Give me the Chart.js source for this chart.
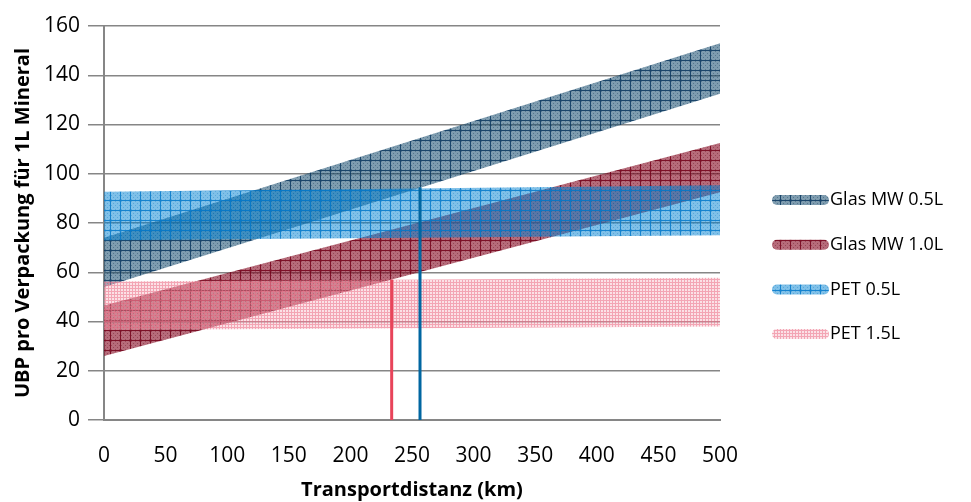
<!DOCTYPE html>
<html>
<head>
<meta charset="utf-8">
<script src="https://cdn.jsdelivr.net/npm/chart.js@4"></script>
<style>
  body { margin: 0; background: #fff; }
  #wrap { width: 971px; height: 502px; }
</style>
</head>
<body>
<div id="wrap"><canvas id="myChart" width="971" height="502"></canvas></div>
<script>
// Transportdistanz in km (Start und Ende der Bänder)
const distanz = [0, 500]

// Bänder: untere und obere Grenze in UBP
const glas05Unten = [54, 132.5]
const glas05Oben  = [74, 153]
const glas10Unten = [26, 92.5]
const glas10Oben  = [46.5, 112.5]
const pet05Unten  = [73, 75]
const pet05Oben   = [92.7, 95.3]
const pet15Unten  = [36.5, 38]
const pet15Oben   = [56.2, 57.8]

// Schnittpunkte (senkrechte Linien)
const schnittX = [233.5, 256.5]
const schnittY = [57, 94.5]

const labels = ["Glas MW 0.5L", "Glas MW 1.0L", "PET 0.5L", "PET 1.5L"]

function muster(grund, punkt, linie, groesse) {
    const c = document.createElement('canvas')
    c.width = groesse
    c.height = groesse
    const g = c.getContext('2d')
    g.fillStyle = grund
    g.fillRect(0, 0, groesse, groesse)
    if (punkt) {
        g.fillStyle = punkt
        for (let i = 1; i < groesse; i += 2) {
            for (let j = 1; j < groesse; j += 2) {
                if (((i + j) / 2) % 2 === 1) g.fillRect(i, j, 1, 1)
            }
        }
    }
    g.fillStyle = linie
    g.fillRect(0, 0, groesse, 1)
    g.fillRect(0, 1, 1, groesse - 1)
    return g.createPattern(c, 'repeat')
}

const fuellungen = [
    muster('rgba(20,75,110,0.55)', 'rgba(10,50,80,0.35)', 'rgba(10,55,95,0.85)', 10),
    muster('rgba(130,0,25,0.58)', 'rgba(90,0,20,0.35)', 'rgba(115,0,25,0.85)', 10),
    muster('rgba(0,130,210,0.5)', 'rgba(0,110,190,0.3)', 'rgba(10,125,205,0.9)', 10),
    muster('rgba(245,175,188,0.38)', null, 'rgba(235,105,130,0.5)', 3),
]

function punkte(werte) {
    return distanz.map((x, i) => ({ x: x, y: werte[i] }))
}

// order: spätere Serie liegt oben (wie in Excel)
function band(label, oben, unten, fuellung, ordnung) {
    return [
        { label: label, data: punkte(oben), fill: '+1', backgroundColor: fuellung,
          borderWidth: 0, pointRadius: 0, order: ordnung },
        { label: '', data: punkte(unten), fill: false, backgroundColor: fuellung,
          borderWidth: 0, pointRadius: 0, order: ordnung }
    ]
}

function senkrecht(i, farbe) {
    return { label: '', data: [{ x: schnittX[i], y: 0 }, { x: schnittX[i], y: schnittY[i] }],
        fill: false, borderColor: farbe, borderWidth: 3, pointRadius: 0, order: 0 }
}

const datasets = [
    ...band(labels[0], glas05Oben, glas05Unten, fuellungen[0], 4),
    ...band(labels[1], glas10Oben, glas10Unten, fuellungen[1], 3),
    ...band(labels[2], pet05Oben, pet05Unten, fuellungen[2], 2),
    ...band(labels[3], pet15Oben, pet15Unten, fuellungen[3], 1),
    senkrecht(0, 'rgb(232,68,90)'),
    senkrecht(1, 'rgb(0,102,161)'),
]

const schrift = "'Open Sans', 'Liberation Sans', sans-serif"
const grau = 'rgb(134,134,134)'

// Legende rechts wie in Excel: runder Balken direkt vor dem Text
const legende = {
    id: 'legende',
    afterDraw(chart) {
        const ctx = chart.ctx
        const area = chart.chartArea
        const x0 = area.right + 52
        ctx.save()
        ctx.font = "18px " + schrift
        ctx.textBaseline = 'middle'
        labels.forEach((text, i) => {
            const y = area.top + 174 + i * 44.7
            ctx.beginPath()
            ctx.roundRect(x0, y - 5, 57, 10, 5)
            ctx.fillStyle = fuellungen[i]
            ctx.fill()
            ctx.fillStyle = '#000'
            ctx.fillText(text, x0 + 58, y)
        })
        ctx.restore()
    }
}

const config = {
    type: 'line',
    data: { datasets: datasets },
    plugins: [legende],
    options: {
        responsive: false,
        animation: false,
        layout: { padding: { top: 26, right: 251, bottom: 0, left: 0 } },
        plugins: {
            legend: { display: false },
            tooltip: { enabled: false }
        },
        scales: {
            x: {
                type: 'linear',
                min: 0,
                max: 500,
                afterFit: s => { s.height = 82 },
                grid: { display: false, drawTicks: false },
                border: { display: true, color: grau, width: 2 },
                ticks: { stepSize: 50, color: '#000', padding: 23,
                    font: { family: schrift, size: 21 } },
                title: { display: true, text: 'Transportdistanz (km)', color: '#000',
                    font: { family: schrift, size: 20, weight: 'bold' }, padding: { top: 0, bottom: 0 } }
            },
            y: {
                min: 0,
                max: 160,
                afterFit: s => { s.width = 104 },
                grid: { color: grau, lineWidth: 1.5, tickLength: 16 },
                border: { display: true, color: grau, width: 2 },
                ticks: { stepSize: 20, color: '#000', padding: 8,
                    font: { family: schrift, size: 21 } },
                title: { display: true, text: 'UBP pro Verpackung für 1L Mineral', color: '#000',
                    font: { family: schrift, size: 20, weight: 'bold' }, padding: { top: 11, bottom: 0 } }
            }
        }
    }
}

const myChart = new Chart(
    document.getElementById("myChart"),
    config
)
</script>
</body>
</html>
